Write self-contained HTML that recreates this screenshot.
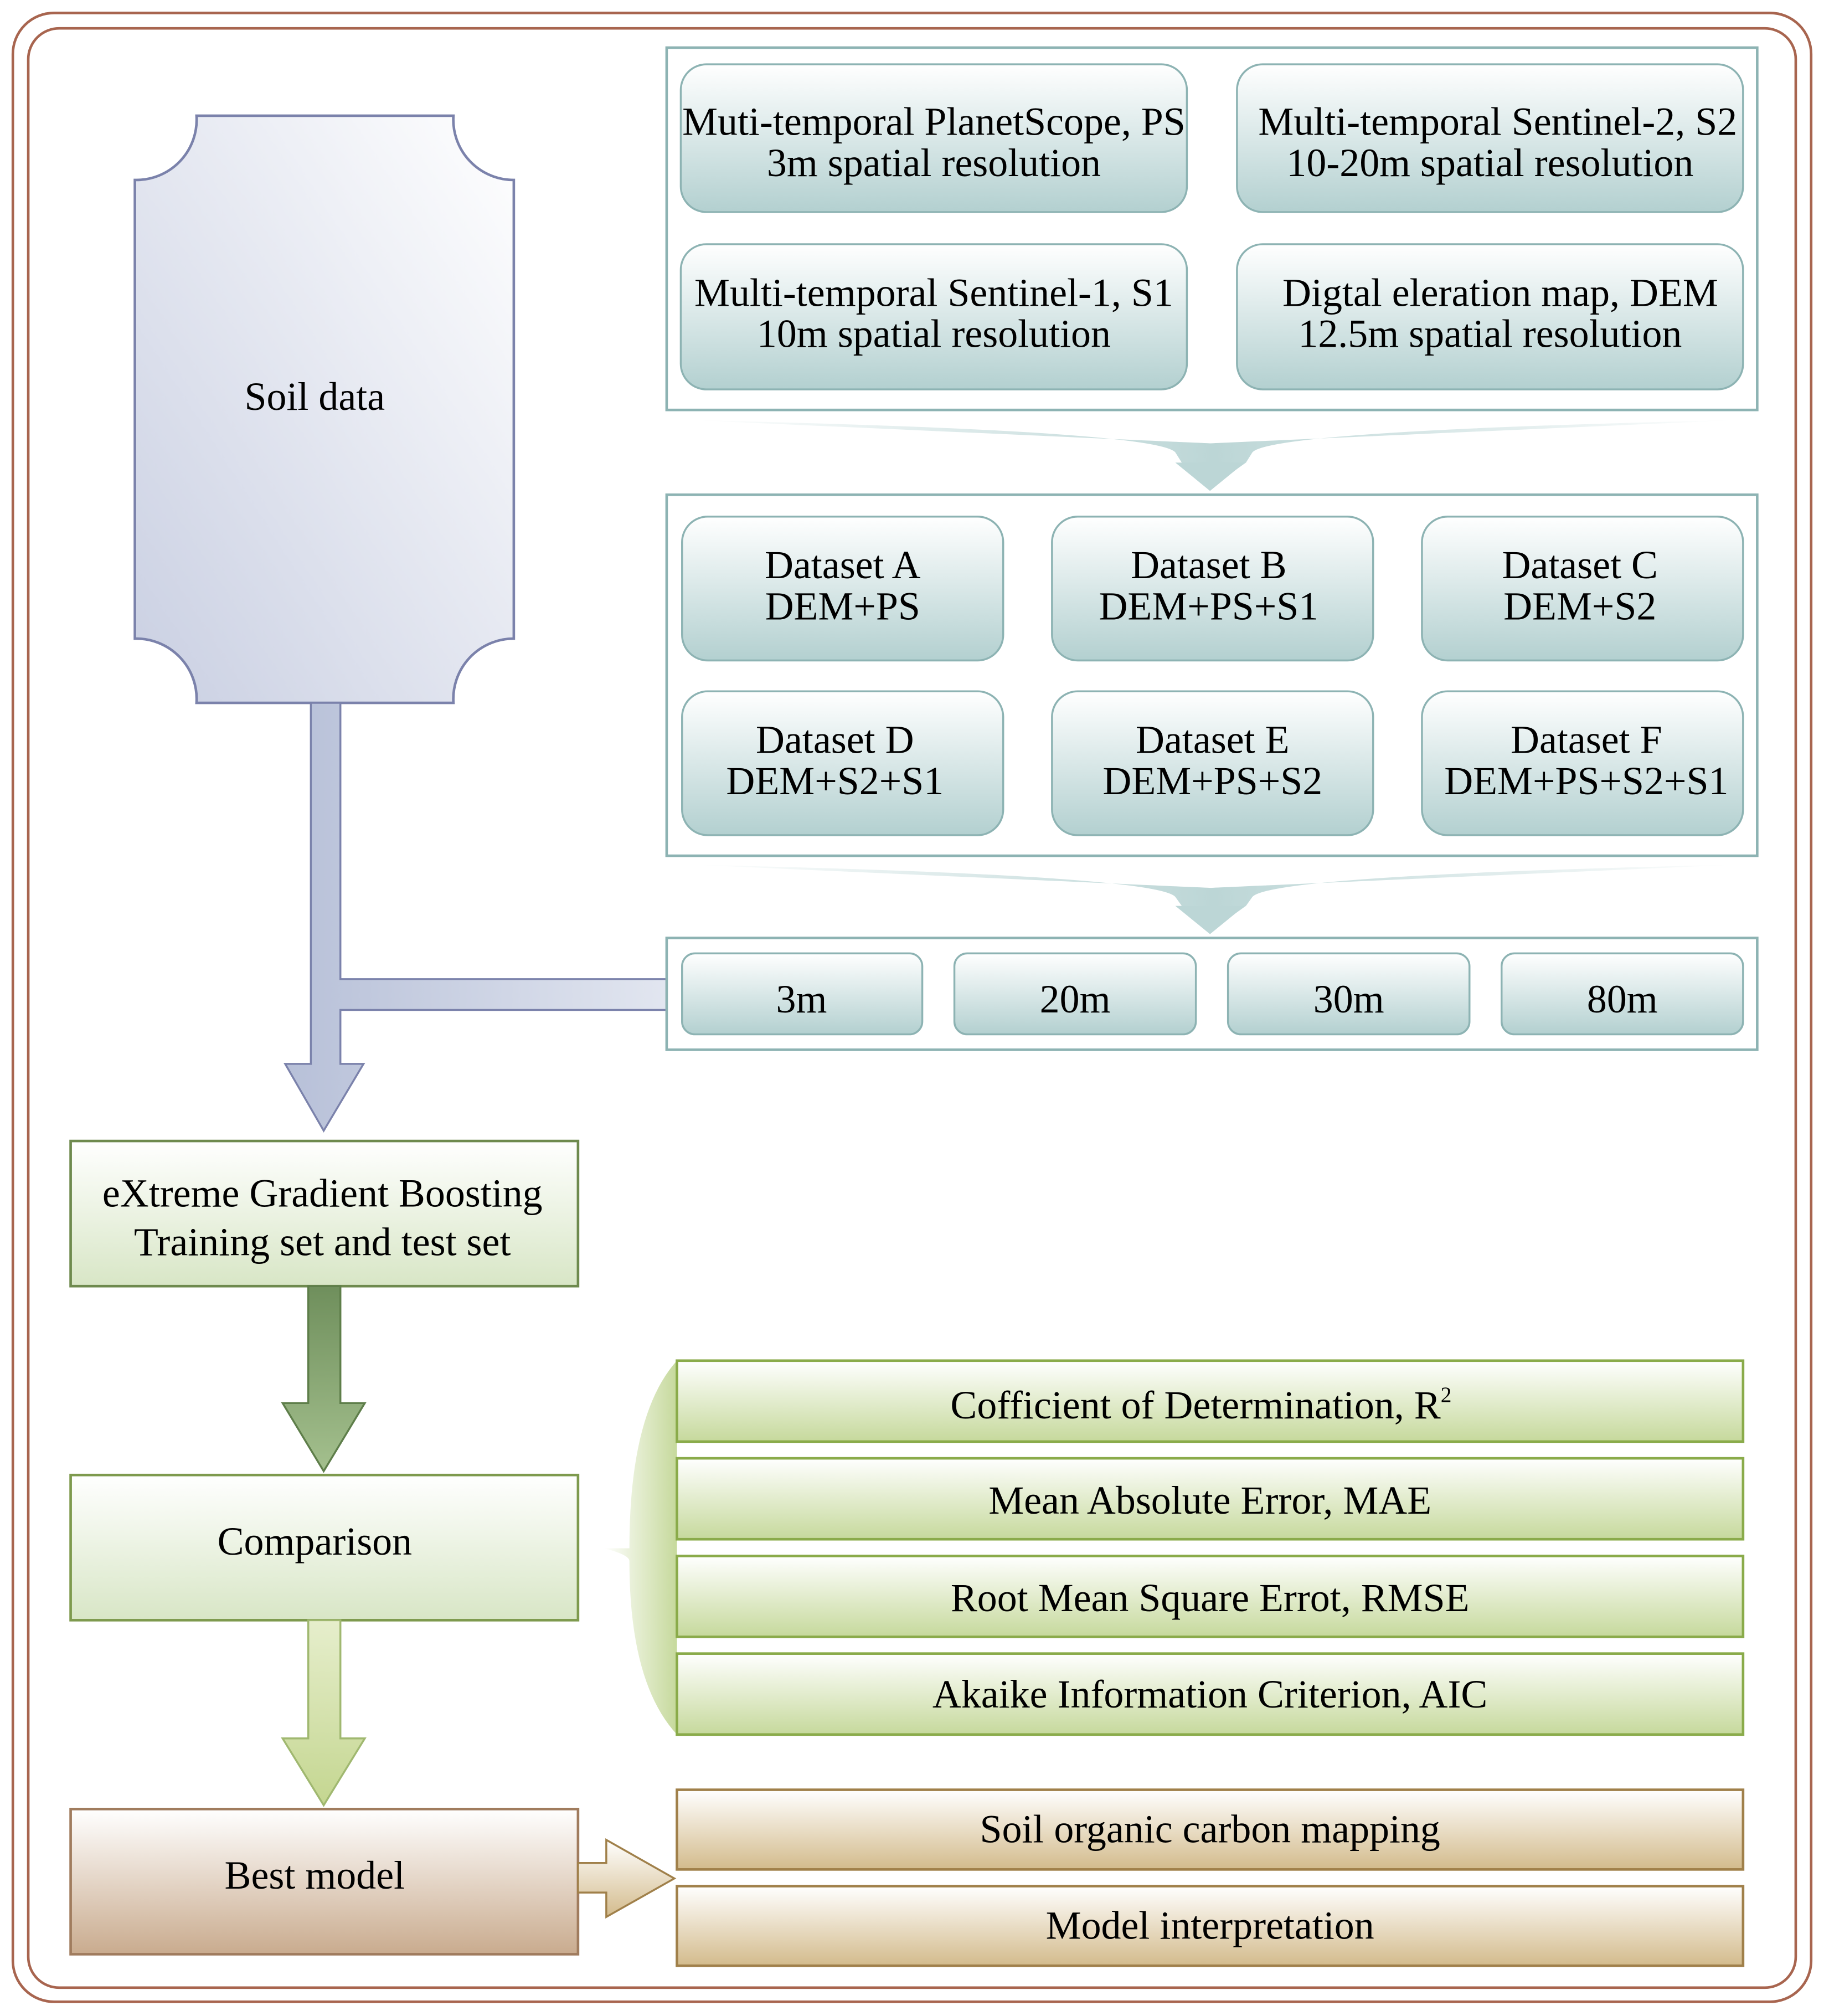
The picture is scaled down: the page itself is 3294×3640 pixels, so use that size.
<!DOCTYPE html>
<html><head><meta charset="utf-8"><style>html,body{margin:0;padding:0;background:#fff}svg{display:block}</style></head>
<body>
<svg width="3294" height="3640" viewBox="0 0 1420 1569" xmlns="http://www.w3.org/2000/svg" font-family="'Liberation Serif', serif">
<defs>
<linearGradient id="teal" x1="0" y1="0" x2="0" y2="1"><stop offset="0" stop-color="#ffffff"/><stop offset="1" stop-color="#b3d0d0"/></linearGradient>
<linearGradient id="soil" x1="1" y1="0" x2="0" y2="1"><stop offset="0" stop-color="#ffffff"/><stop offset="1" stop-color="#c9cfe2"/></linearGradient>
<linearGradient id="grn" x1="0" y1="0" x2="0" y2="1"><stop offset="0" stop-color="#ffffff"/><stop offset="1" stop-color="#c6d99c"/></linearGradient>
<linearGradient id="grn2" x1="0" y1="0" x2="0" y2="1"><stop offset="0" stop-color="#ffffff"/><stop offset="1" stop-color="#d8e6c6"/></linearGradient>
<linearGradient id="brn" x1="0" y1="0" x2="0" y2="1"><stop offset="0" stop-color="#ffffff"/><stop offset="1" stop-color="#c9ab8e"/></linearGradient>
<linearGradient id="brn2" x1="0" y1="0" x2="0" y2="1"><stop offset="0" stop-color="#ffffff"/><stop offset="1" stop-color="#d3bb8c"/></linearGradient>
<linearGradient id="ga1" x1="0" y1="0" x2="0" y2="1"><stop offset="0" stop-color="#6f8f5c"/><stop offset="1" stop-color="#a4c08e"/></linearGradient>
<linearGradient id="ga2" x1="0" y1="0" x2="0" y2="1"><stop offset="0" stop-color="#e6eecc"/><stop offset="1" stop-color="#c4d690"/></linearGradient>
<linearGradient id="sa" x1="0" y1="0" x2="1" y2="0"><stop offset="0" stop-color="#b7c0d8"/><stop offset="1" stop-color="#e2e6f0"/></linearGradient>
<linearGradient id="chev" x1="0" y1="0" x2="1" y2="0"><stop offset="0" stop-color="#bcd6d6" stop-opacity="0"/><stop offset="0.5" stop-color="#bcd6d6"/><stop offset="1" stop-color="#bcd6d6" stop-opacity="0"/></linearGradient>
<linearGradient id="brace" x1="0" y1="0" x2="1" y2="0"><stop offset="0" stop-color="#c6d99c" stop-opacity="0"/><stop offset="1" stop-color="#c6d99c"/></linearGradient>
</defs>
<rect x="10" y="10" width="1400" height="1548" rx="32" fill="none" stroke="#a8654f" stroke-width="2"/>
<rect x="22" y="22" width="1376" height="1525" rx="24" fill="none" stroke="#a8654f" stroke-width="2"/>

<path d="M153,90 L353,90 A47,47 0 0 0 400,140 L400,497 A47,47 0 0 0 353,547 L153,547 A47,47 0 0 0 105,497 L105,140 A47,47 0 0 0 153,90 Z" fill="url(#soil)" stroke="#7b82ab" stroke-width="2"/>
<text x="245" y="319" font-size="31" text-anchor="middle">Soil data</text>

<path d="M242,547 L265,547 L265,762 L519,762 L519,786 L265,786 L265,828 L283,828 L252,880 L222,828 L242,828 Z" fill="url(#sa)" stroke="#7b82ab" stroke-width="1.5"/>

<rect x="519" y="37" width="849" height="282" fill="#fff" stroke="#8db3b3" stroke-width="2"/>
<g stroke="#8db3b3" stroke-width="1.5" fill="url(#teal)">
<rect x="530" y="50" width="394" height="115" rx="20"/>
<rect x="963" y="50" width="394" height="115" rx="20"/>
<rect x="530" y="190" width="394" height="113" rx="20"/>
<rect x="963" y="190" width="394" height="113" rx="20"/>
</g>
<g font-size="31" text-anchor="middle">
<text x="727" y="105">Muti-temporal PlanetScope, PS</text><text x="727" y="137">3m spatial resolution</text>
<text x="1166" y="105">Multi-temporal Sentinel-2, S2</text><text x="1160" y="137">10-20m spatial resolution</text>
<text x="727" y="238">Multi-temporal Sentinel-1, S1</text><text x="727" y="270">10m spatial resolution</text>
<text x="1168" y="238">Digtal eleration map, DEM</text><text x="1160" y="270">12.5m spatial resolution</text>
</g>
<path d="M540,327 Q900,335 915,352 L920,360 L942,380 L970,360 L975,352 Q990,335 1350,327 Q942,345 942,345 Q942,345 540,327 Z" fill="url(#chev)"/>
<path d="M915,360 L969,360 L942,382 Z" fill="#bcd6d6"/>

<rect x="519" y="385" width="849" height="281" fill="#fff" stroke="#8db3b3" stroke-width="2"/>
<g stroke="#8db3b3" stroke-width="1.5" fill="url(#teal)">
<rect x="531" y="402" width="250" height="112" rx="20"/>
<rect x="819" y="402" width="250" height="112" rx="20"/>
<rect x="1107" y="402" width="250" height="112" rx="20"/>
<rect x="531" y="538" width="250" height="112" rx="20"/>
<rect x="819" y="538" width="250" height="112" rx="20"/>
<rect x="1107" y="538" width="250" height="112" rx="20"/>
</g>
<g font-size="31" text-anchor="middle">
<text x="656" y="450">Dataset A</text><text x="656" y="482">DEM+PS</text>
<text x="941" y="450">Dataset B</text><text x="941" y="482">DEM+PS+S1</text>
<text x="1230" y="450">Dataset C</text><text x="1230" y="482">DEM+S2</text>
<text x="650" y="586">Dataset D</text><text x="650" y="618">DEM+S2+S1</text>
<text x="944" y="586">Dataset E</text><text x="944" y="618">DEM+PS+S2</text>
<text x="1235" y="586">Dataset F</text><text x="1235" y="618">DEM+PS+S2+S1</text>
</g>
<path d="M540,673 Q900,681 915,698 L920,705 L942,725 L970,705 L975,698 Q990,681 1350,673 Q942,691 942,691 Q942,691 540,673 Z" fill="url(#chev)"/>
<path d="M915,705 L969,705 L942,727 Z" fill="#bcd6d6"/>

<rect x="519" y="730" width="849" height="87" fill="#fff" stroke="#8db3b3" stroke-width="2"/>
<g stroke="#8db3b3" stroke-width="1.5" fill="url(#teal)">
<rect x="531" y="742" width="187" height="63" rx="10"/>
<rect x="743" y="742" width="188" height="63" rx="10"/>
<rect x="956" y="742" width="188" height="63" rx="10"/>
<rect x="1169" y="742" width="188" height="63" rx="10"/>
</g>
<g font-size="31" text-anchor="middle">
<text x="624" y="788">3m</text><text x="837" y="788">20m</text><text x="1050" y="788">30m</text><text x="1263" y="788">80m</text>
</g>

<rect x="55" y="888" width="395" height="113" fill="url(#grn2)" stroke="#6e8a4e" stroke-width="2"/>
<text x="251" y="939" font-size="31" text-anchor="middle">eXtreme Gradient Boosting</text>
<text x="251" y="977" font-size="31" text-anchor="middle">Training set and test set</text>
<path d="M240,1001 L265,1001 L265,1092 L284,1092 L252,1145 L220,1092 L240,1092 Z" fill="url(#ga1)" stroke="#5e7e4a" stroke-width="1.5"/>
<rect x="55" y="1148" width="395" height="113" fill="url(#grn2)" stroke="#7e9a4e" stroke-width="2"/>
<text x="245" y="1210" font-size="31" text-anchor="middle">Comparison</text>
<path d="M240,1261 L265,1261 L265,1353 L284,1353 L252,1405 L220,1353 L240,1353 Z" fill="url(#ga2)" stroke="#a0b870" stroke-width="1.5"/>
<rect x="55" y="1408" width="395" height="113" fill="url(#brn)" stroke="#a07c5e" stroke-width="2"/>
<text x="245" y="1470" font-size="31" text-anchor="middle">Best model</text>
<path d="M450,1450 L472,1450 L472,1432 L525,1462 L472,1492 L472,1473 L450,1473 Z" fill="url(#brn2)" stroke="#a0804a" stroke-width="1.5"/>

<path d="M527,1059 Q490,1100 490,1205 Q470,1205 470,1205 Q490,1210 490,1215 Q490,1310 527,1350 Z" fill="url(#brace)"/>

<g stroke="#8aab4a" stroke-width="2" fill="url(#grn)">
<rect x="527" y="1059" width="830" height="63"/>
<rect x="527" y="1135" width="830" height="63"/>
<rect x="527" y="1211" width="830" height="63"/>
<rect x="527" y="1287" width="830" height="63"/>
</g>
<g font-size="31" text-anchor="middle">
<text x="935" y="1104">Cofficient of  Determination, R<tspan font-size="17" dy="-13">2</tspan></text>
<text x="942" y="1178">Mean Absolute Error, MAE</text>
<text x="942" y="1254">Root Mean Square Errot, RMSE</text>
<text x="942" y="1329">Akaike Information Criterion, AIC</text>
</g>
<g stroke="#a0804a" stroke-width="2" fill="url(#brn2)">
<rect x="527" y="1393" width="830" height="62"/>
<rect x="527" y="1468" width="830" height="62"/>
</g>
<g font-size="31" text-anchor="middle">
<text x="942" y="1434">Soil organic carbon mapping</text>
<text x="942" y="1509">Model interpretation</text>
</g>
</svg>
</body></html>
